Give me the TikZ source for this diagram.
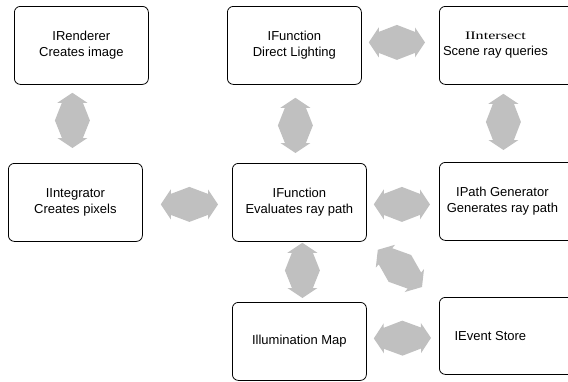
\documentclass[tikz,border=0pt]{standalone}
\usepackage{fontspec}
\setmainfont{Liberation Sans}
\newfontfamily\serifwide[FakeStretch=1.4]{Liberation Serif}
\usetikzlibrary{calc}
\definecolor{arrowgray}{RGB}{192,192,192}

\tikzset{
  card/.style={draw, rounded corners=6pt, line width=0.8pt, anchor=north west,
    minimum width=134pt, minimum height=78pt, inner sep=0pt,
    align=center, font=\fontsize{13}{16}\selectfont},
  wide/.style={card, minimum width=150pt},
  tag/.style={align=center, font=\fontsize{13}{16}\selectfont},
  twoway/.style={fill=arrowgray, draw=none, to path={
    -- ($($(\tikztostart)!10pt!(\tikztotarget)$)!15pt!90:(\tikztotarget)$)
    -- ($($(\tikztostart)!10pt!(\tikztotarget)$)!10.5pt!90:(\tikztotarget)$)
    -- ($($(\tikztostart)!0.5!(\tikztotarget)$)!17.5pt!90:(\tikztotarget)$)
    -- ($($(\tikztotarget)!10pt!(\tikztostart)$)!10.5pt!-90:(\tikztostart)$)
    -- ($($(\tikztotarget)!10pt!(\tikztostart)$)!15pt!-90:(\tikztostart)$)
    -- (\tikztotarget)
    -- ($($(\tikztotarget)!10pt!(\tikztostart)$)!15pt!90:(\tikztostart)$)
    -- ($($(\tikztotarget)!10pt!(\tikztostart)$)!10.5pt!90:(\tikztostart)$)
    -- ($($(\tikztostart)!0.5!(\tikztotarget)$)!17.5pt!-90:(\tikztotarget)$)
    -- ($($(\tikztostart)!10pt!(\tikztotarget)$)!10.5pt!-90:(\tikztotarget)$)
    -- ($($(\tikztostart)!10pt!(\tikztotarget)$)!15pt!-90:(\tikztotarget)$)
    -- cycle}}
}

\begin{document}
\begin{tikzpicture}[x=1pt, y=-1pt]
  \useasboundingbox (0,0) rectangle (568,381);

  \node[card] (rend) at (14,6) {IRenderer\\Creates image};
  \node[card] (light) at (227,6) {IFunction\\Direct Lighting};
  \node[wide, label={[tag, xshift=-19pt]center:{\fontsize{11.5}{16}\serifwide IIntersect}\\Scene ray queries}] (isect) at (439,6) {};
  \node[card] (integ) at (8,163) {IIntegrator\\Creates pixels};
  \node[card] (eval) at (232,163) {IFunction\\Evaluates ray path};
  \node[wide, label={[tag, xshift=-12pt]center:IPath Generator\\Generates ray path}] (pathgen) at (439,162) {};
  \node[card] (illum) at (232,302) {Illumination Map};
  \node[wide, minimum height=77pt, label={[tag, xshift=-24pt]center:IEvent Store}] (store) at (439,297) {};

  \path[twoway] ([shift={(-9,8)}]rend.south) to ([shift={(-3,-15)}]integ.north);
  \path[twoway] ([shift={(1,13)}]light.south) to ([shift={(-4,-10)}]eval.north);
  \path[twoway] ([shift={(7,-3)}]light.east) to ([shift={(-14,-3)}]isect.west);
  \path[twoway] ([shift={(-11,9)}]isect.south) to ([shift={(-11,-12)}]pathgen.north);
  \path[twoway] ([shift={(18,2)}]integ.east) to ([shift={(-14,2)}]eval.west);
  \path[twoway] ([shift={(7,2)}]eval.east) to ([shift={(-9,3)}]pathgen.west);
  \path[twoway] ([shift={(3,1)}]eval.south) to ([shift={(3,-4)}]illum.north);
  \path[twoway] ([shift={(7,-3)}]illum.east) to ([shift={(-8,2)}]store.west);
  \path[twoway] ([shift={(11,8)}]eval.south east) to ([shift={(-17,-10)}]store.north west);
\end{tikzpicture}
\end{document}
